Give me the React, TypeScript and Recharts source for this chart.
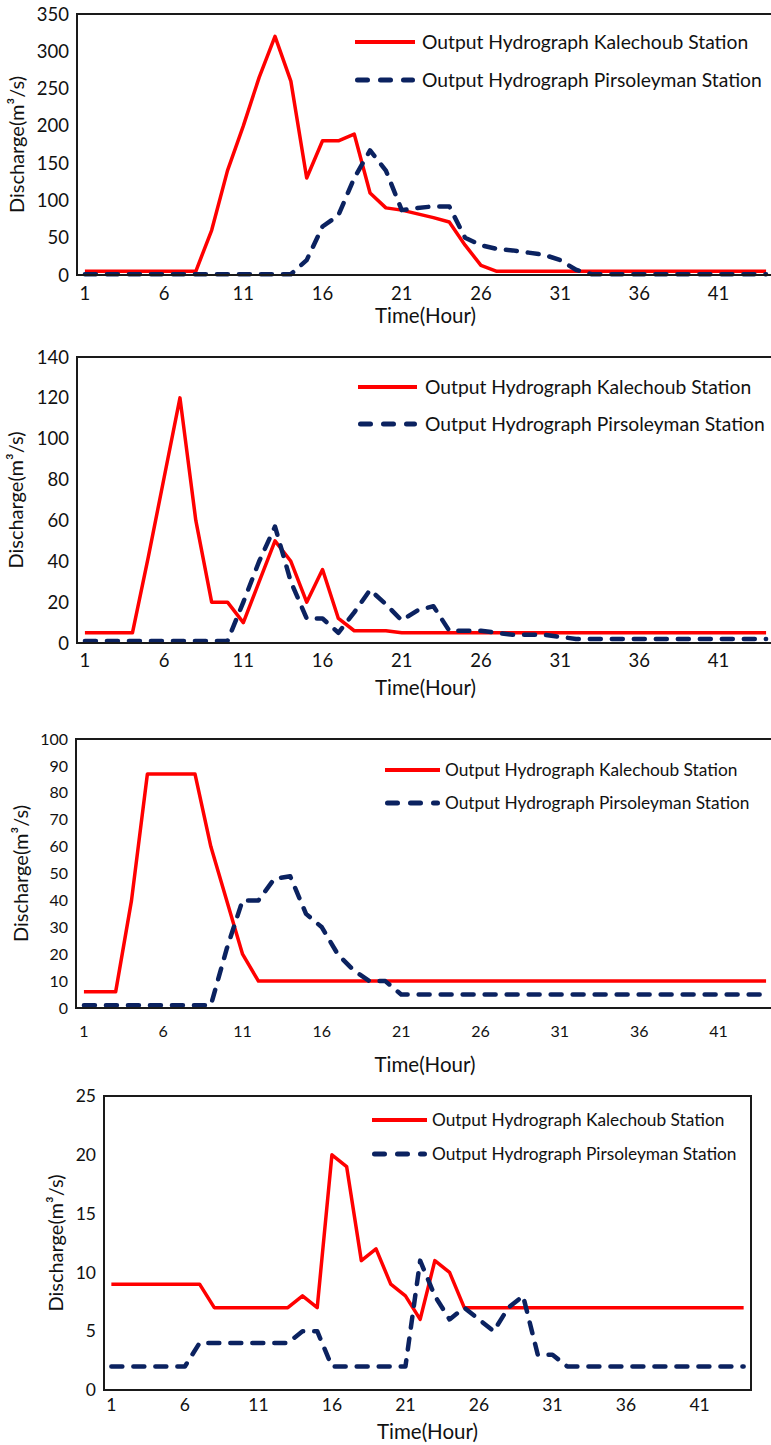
import React from 'react'
import { LineChart, Line, XAxis, YAxis, Legend, ReferenceArea } from 'recharts'

const FONT = 'Lato, "Open Sans", sans-serif'
const RED = '#ff0000'
const NAVY = '#0b2260'
const AXIS = '#1a1a1a'

const hours = [
  1, 2, 3, 4, 5, 6, 7, 8, 9, 10, 11, 12, 13, 14, 15, 16, 17, 18, 19, 20, 21, 22,
  23, 24, 25, 26, 27, 28, 29, 30, 31, 32, 33, 34, 35, 36, 37, 38, 39, 40, 41, 42, 43, 44,
]
const xTicks = [1, 6, 11, 16, 21, 26, 31, 36, 41]

// panel 1
const kalechoub1 = [
  5, 5, 5, 5, 5, 5, 5, 5, 60, 140, 200, 265, 320, 260, 130, 180, 180, 189, 110, 90, 87, 82,
  77, 71, 40, 13, 5, 5, 5, 5, 5, 5, 5, 5, 5, 5, 5, 5, 5, 5, 5, 5, 5, 5,
]
const pirsoleyman1 = [
  1, 1, 1, 1, 1, 1, 1, 1, 1, 1, 1, 1, 1, 1, 20, 65, 80, 130, 167, 140, 87, 90,
  92, 92, 50, 40, 35, 33, 30, 27, 20, 7, 1, 1, 1, 1, 1, 1, 1, 1, 1, 1, 1, 1,
]
const yTicks1 = [0, 50, 100, 150, 200, 250, 300, 350]

// panel 2
const kalechoub2 = [
  5, 5, 5, 5, 42, 81, 120, 60, 20, 20, 10, 30, 50, 40, 20, 36, 12, 6, 6, 6, 5, 5,
  5, 5, 5, 5, 5, 5, 5, 5, 5, 5, 5, 5, 5, 5, 5, 5, 5, 5, 5, 5, 5, 5,
]
const pirsoleyman2 = [
  1, 1, 1, 1, 1, 1, 1, 1, 1, 1, 20, 40, 57, 30, 12, 12, 5, 15, 26, 19, 11, 16,
  18, 6, 6, 6, 5, 4, 4, 4, 3, 2, 2, 2, 2, 2, 2, 2, 2, 2, 2, 2, 2, 2,
]
const yTicks2 = [0, 20, 40, 60, 80, 100, 120, 140]

// panel 3
const kalechoub3 = [
  6, 6, 6, 40, 87, 87, 87, 87, 60, 40, 20, 10, 10, 10, 10, 10, 10, 10, 10, 10, 10, 10,
  10, 10, 10, 10, 10, 10, 10, 10, 10, 10, 10, 10, 10, 10, 10, 10, 10, 10, 10, 10, 10, 10,
]
const pirsoleyman3 = [
  1, 1, 1, 1, 1, 1, 1, 1, 1, 22, 40, 40, 48, 49, 35, 30, 20, 14, 10, 10, 5, 5,
  5, 5, 5, 5, 5, 5, 5, 5, 5, 5, 5, 5, 5, 5, 5, 5, 5, 5, 5, 5, 5, 5,
]
const yTicks3 = [0, 10, 20, 30, 40, 50, 60, 70, 80, 90, 100]

// panel 4
const kalechoub4 = [
  9, 9, 9, 9, 9, 9, 9, 7, 7, 7, 7, 7, 7, 8, 7, 20, 19, 11, 12, 9, 8, 6,
  11, 10, 7, 7, 7, 7, 7, 7, 7, 7, 7, 7, 7, 7, 7, 7, 7, 7, 7, 7, 7, 7,
]
const pirsoleyman4 = [
  2, 2, 2, 2, 2, 2, 4, 4, 4, 4, 4, 4, 4, 5, 5, 2, 2, 2, 2, 2, 2, 11,
  8, 6, 7, 6, 5, 7, 8, 3, 3, 2, 2, 2, 2, 2, 2, 2, 2, 2, 2, 2, 2, 2,
]
const yTicks4 = [0, 5, 10, 15, 20, 25]

const seriesStyle: Record<string, any> = {
  kalechoub: { color: RED, legendWidth: 4, dash: undefined, cap: 'butt' },
  pirsoleyman: { color: NAVY, legendWidth: 5, dash: '10 13', cap: 'round' },
}
const seriesKeys = ['kalechoub', 'pirsoleyman']

type LegendCfg = { left: number; top: number; fontSize: number; lineLen: number; gap: number; rowH: number }

const makeLegend = (cfg: LegendCfg) => (props: any) => {
  const payload = props.payload || []
  return (
    <div style={{ fontFamily: FONT, fontSize: cfg.fontSize, color: '#111', whiteSpace: 'nowrap', lineHeight: 1 }}>
      {payload.map((entry: any, i: number) => {
        const key = entry.dataKey || seriesKeys[i]
        const s = seriesStyle[key]
        return (
          <div key={key} style={{ display: 'flex', alignItems: 'center', height: cfg.rowH }}>
            <svg width={cfg.lineLen} height={12} style={{ display: 'block' }}>
              <line
                x1={s.cap === 'round' ? s.legendWidth / 2 : 0}
                y1={6}
                x2={s.cap === 'round' ? cfg.lineLen - s.legendWidth / 2 : cfg.lineLen}
                y2={6}
                stroke={s.color}
                strokeWidth={s.legendWidth}
                strokeDasharray={s.dash}
                strokeLinecap={s.cap}
              />
            </svg>
            <span style={{ marginLeft: cfg.gap }}>{entry.value}</span>
          </div>
        )
      })}
    </div>
  )
}

type PanelProps = {
  top: number
  width: number
  height: number
  plotTop: number
  plotLeft: number
  marginRight: number
  xAxisHeight: number
  kalechoub: number[]
  pirsoleyman: number[]
  yTicks: number[]
  tickFont: number
  tickMarginX: number
  xTitleOffset: number
  yTitleX: number
  legend: LegendCfg
}

function Panel(p: PanelProps) {
  const data = hours.map((h, i) => ({ hour: h, kalechoub: p.kalechoub[i], pirsoleyman: p.pirsoleyman[i] }))
  const yMax = p.yTicks[p.yTicks.length - 1]
  const tick = { fontSize: p.tickFont, fill: '#111', fontFamily: FONT }
  const titleStyle = { fontSize: 20.5, fill: '#111', fontFamily: FONT }
  return (
    <div style={{ position: 'absolute', left: 0, top: p.top }}>
      <LineChart
        width={p.width}
        height={p.height}
        data={data}
        margin={{ top: p.plotTop, right: p.marginRight, bottom: 0, left: 0 }}
      >
        <XAxis
          type="number"
          dataKey="hour"
          domain={[0.5, 44.5]}
          ticks={xTicks}
          interval={0}
          height={p.xAxisHeight}
          tickLine={false}
          tickSize={6}
          tickMargin={p.tickMarginX}
          axisLine={{ stroke: AXIS, strokeWidth: 2 }}
          tick={tick}
          label={{ value: 'Time(Hour)', position: 'insideTop', offset: p.xTitleOffset, style: titleStyle }}
        />
        <YAxis
          type="number"
          domain={[0, yMax]}
          ticks={p.yTicks}
          interval={0}
          width={p.plotLeft}
          tickLine={false}
          tickSize={6}
          tickMargin={2}
          axisLine={{ stroke: AXIS, strokeWidth: 2 }}
          tick={tick}
          label={{
            value: 'Discharge(m³/s)',
            angle: -90,
            position: 'insideLeft',
            offset: p.yTitleX,
            style: { ...titleStyle, fontSize: 20, textAnchor: 'middle' },
          }}
        />
        <ReferenceArea x1={0.5} x2={44.5} y1={0} y2={yMax} fill="none" stroke={AXIS} strokeWidth={2} ifOverflow="visible" />
        <Legend
          layout="horizontal"
          verticalAlign="middle"
          align="center"
          content={makeLegend(p.legend)}
          wrapperStyle={{ left: p.legend.left, top: p.legend.top, width: 'auto' }}
        />
        <Line
          type="linear"
          dataKey="kalechoub"
          name="Output Hydrograph Kalechoub Station"
          stroke={RED}
          strokeWidth={3.5}
          strokeLinejoin="round"
          dot={false}
          activeDot={false}
          isAnimationActive={false}
        />
        <Line
          type="linear"
          dataKey="pirsoleyman"
          name="Output Hydrograph Pirsoleyman Station"
          stroke={NAVY}
          strokeWidth={4.5}
          strokeDasharray="11 11"
          strokeLinecap="round"
          strokeLinejoin="round"
          dot={false}
          activeDot={false}
          isAnimationActive={false}
        />
      </LineChart>
    </div>
  )
}

export default function App() {
  return (
    <div style={{ position: 'absolute', left: 0, top: 0, width: 771, height: 1445, overflow: 'hidden', background: '#fff' }}>
      <Panel
        top={0} width={780} height={340} plotTop={14} plotLeft={77} marginRight={6} xAxisHeight={65}
        kalechoub={kalechoub1} pirsoleyman={pirsoleyman1} yTicks={yTicks1}
        tickFont={18.5} tickMarginX={6} xTitleOffset={33.5} yTitleX={17}
        legend={{ left: 355, top: 23, fontSize: 19.3, lineLen: 60, gap: 7, rowH: 38 }}
      />
      <Panel
        top={340} width={780} height={370} plotTop={17} plotLeft={77} marginRight={6} xAxisHeight={67}
        kalechoub={kalechoub2} pirsoleyman={pirsoleyman2} yTicks={yTicks2}
        tickFont={18.5} tickMarginX={5} xTitleOffset={37.5} yTitleX={16}
        legend={{ left: 358, top: 28.5, fontSize: 19.3, lineLen: 59, gap: 8, rowH: 37 }}
      />
      <Panel
        top={710} width={780} height={375} plotTop={29} plotLeft={76} marginRight={6} xAxisHeight={77}
        kalechoub={kalechoub3} pirsoleyman={pirsoleyman3} yTicks={yTicks3}
        tickFont={16} tickMarginX={12} xTitleOffset={49.5} yTitleX={21}
        legend={{ left: 385, top: 43.5, fontSize: 17.3, lineLen: 55, gap: 5, rowH: 33 }}
      />
      <Panel
        top={1085} width={771} height={360} plotTop={11} plotLeft={104} marginRight={20} xAxisHeight={55}
        kalechoub={kalechoub4} pirsoleyman={pirsoleyman4} yTicks={yTicks4}
        tickFont={17.5} tickMarginX={3} xTitleOffset={34.5} yTitleX={56}
        legend={{ left: 372, top: 18, fontSize: 17.3, lineLen: 55, gap: 5, rowH: 34 }}
      />
    </div>
  )
}
